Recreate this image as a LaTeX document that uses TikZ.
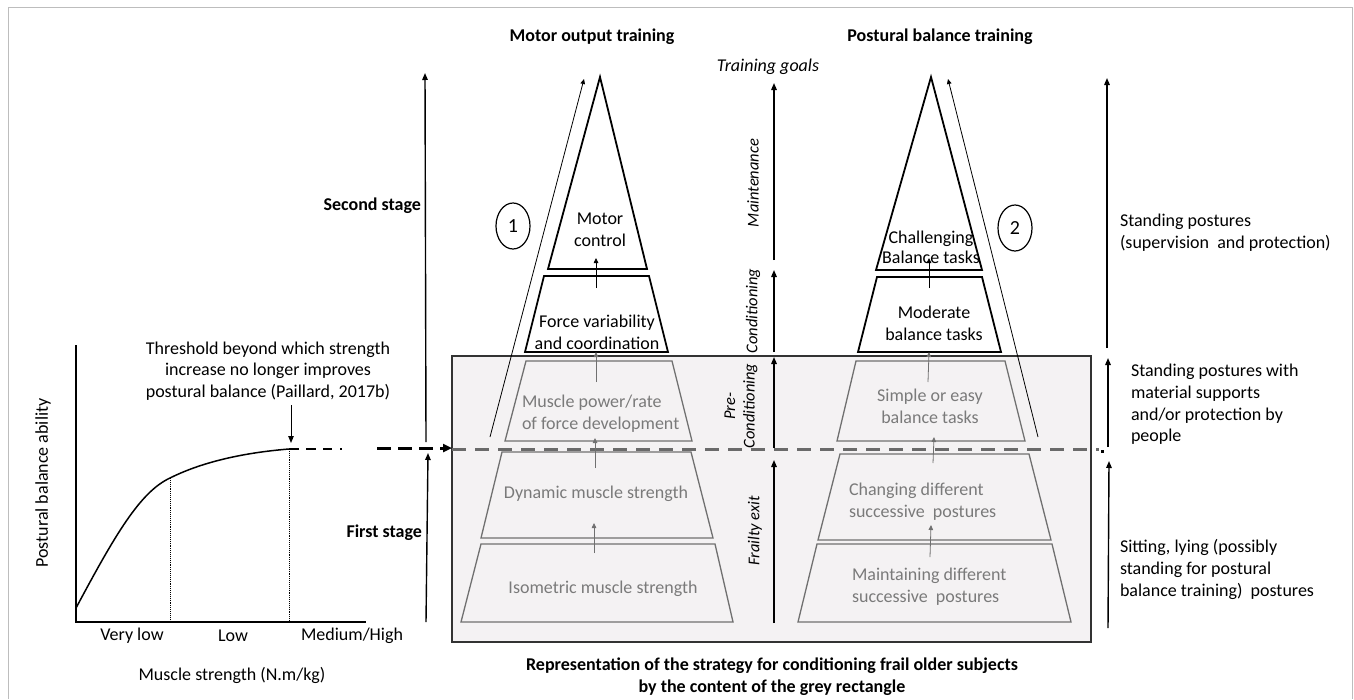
\documentclass[tikz,border=0pt]{standalone}
\usepackage{fontspec}
\setmainfont{Carlito}
\usetikzlibrary{arrows.meta,shapes.geometric}
\definecolor{rectfill}{HTML}{F4F2F3}
\definecolor{greytxt}{HTML}{7A7A7A}
\definecolor{greyline}{HTML}{707070}
\definecolor{framecol}{HTML}{BDBDBD}
\definecolor{dashgrey}{HTML}{6A6A6A}
\begin{document}
\begin{tikzpicture}[x=1pt,y=-1pt,
  every node/.style={inner sep=0pt, outer sep=0pt},
  tn/.style={font=\fontsize{18}{21.7}\selectfont},
  tb/.style={font=\bfseries\fontsize{18}{21.7}\selectfont},
  ti/.style={font=\itshape\fontsize{18}{21.7}\selectfont},
  trot/.style={font=\itshape\fontsize{16.5}{19.5}\selectfont, rotate=90, align=center},
  gtxt/.style={tn, text=greytxt},
  blk/.style={draw=black, line width=1.8},
  gry/.style={draw=greyline, line width=1.3},
  tipa/.style={-{Triangle[length=7pt,width=5.5pt]}},
  tips/.style={-{Triangle[length=5pt,width=4.5pt]}},
  axarrow/.style={tipa, line width=1.4, black},
  thin/.style={tips, line width=0.8},
]
\useasboundingbox (0,0) rectangle (1354,699);
% frame
\draw[framecol, line width=1] (8,699) -- (8,7) -- (1352.5,7) -- (1352.5,699);

% ---------------- titles
\node[tb] (t1) at (592,37) {Motor output training};
\node[tb] (t2) at (940,37) {Postural balance training};
\node[ti] (tg) at (768,67) {Training goals};

% ---------------- grey rectangle
\node[draw=black!80, line width=1.5, fill=rectfill, minimum width=639pt, minimum height=286pt, anchor=north west] (grect) at (452,356) {};

% grey dashed line
\coordinate (dl1) at (452,449);
\coordinate (dl2) at (1099,449);
\draw[dashgrey, line width=3, dash pattern=on 14pt off 9pt] (dl1) -- (dl2);
\fill[black] (1101,449.5) rectangle (1104,452.5);

% ---------------- left pyramid
\draw[blk] (600,77) -- (647,269) -- (548,269) -- cycle;
\draw[blk] (544,276) -- (649,276) -- (668,352) -- (525,352) -- cycle;
\draw[gry] (526,361) -- (672,361) -- (692,441) -- (505,441) -- cycle;
\draw[gry] (502,452) -- (691,452) -- (713,538) -- (481,538) -- cycle;
\draw[gry] (481,544) -- (715,544) -- (733,622) -- (461,622) -- cycle;

\node[tn, align=center] (mc) at (600,229.5) {Motor\\control};
\node[tn, align=center] (fv) at (597,332) {Force variability\\and coordination};
\node[gtxt, align=left, anchor=west] (mp) at (522,414) {Muscle power/rate\\of force development};
\node[gtxt] (dm) at (596,494) {Dynamic muscle strength};
\node[gtxt] (im) at (603,589) {Isometric muscle strength};

\coordinate (la1s) at (596,288); \coordinate (la1e) at (596,258);
\coordinate (la2s) at (596,382); \coordinate (la2e) at (596,352);
\coordinate (la3s) at (595,468); \coordinate (la3e) at (595,438);
\coordinate (la4s) at (594,553); \coordinate (la4e) at (594,523);
\draw[thin, black] (la1s) -- (la1e);
\draw[thin, greyline] (la2s) -- (la2e);
\draw[thin, greyline] (la3s) -- (la3e);
\draw[thin, greyline] (la4s) -- (la4e);

\coordinate (lo1) at (490,437); \coordinate (lo2) at (584,79);
\draw[thin, black] (lo1) -- (lo2);
\node[draw, ellipse, line width=1.2, minimum width=34pt, minimum height=46pt, font=\fontsize{20}{24}\selectfont] (c1) at (513,226) {1};

% ---------------- right pyramid
\draw[blk] (931,77) -- (982,270) -- (876,270) -- cycle;
\draw[blk] (877,277) -- (982,277) -- (1001,352) -- (858,352) -- cycle;
\draw[gry] (856,361) -- (1005,361) -- (1025,441) -- (837,441) -- cycle;
\draw[gry] (840,454) -- (1029,454) -- (1051,540) -- (818,540) -- cycle;
\draw[gry] (817,544) -- (1052,544) -- (1071,622) -- (798,622) -- cycle;

\node[font=\fontsize{18}{20}\selectfont, align=center] (cb) at (931,247) {Challenging\\Balance tasks};
\node[tn, align=center] (mb) at (934,323) {Moderate\\balance tasks};
\node[gtxt, align=center] (sb) at (930,406) {Simple or easy\\balance tasks};
\node[gtxt, align=left, anchor=west] (cd) at (849,502) {Changing different\\successive\ \ postures};
\node[gtxt, align=left, anchor=west] (md) at (852,587) {Maintaining different\\successive\ \ postures};

\coordinate (ra1s) at (929,288); \coordinate (ra1e) at (929,258);
\coordinate (ra2s) at (928,382); \coordinate (ra2e) at (929,352);
\coordinate (ra3s) at (933,463); \coordinate (ra3e) at (934,437);
\coordinate (ra4s) at (930,557); \coordinate (ra4e) at (931,525);
\draw[thin, black] (ra1s) -- (ra1e);
\draw[thin, greyline] (ra2s) -- (ra2e);
\draw[thin, greyline] (ra3s) -- (ra3e);
\draw[thin, greyline] (ra4s) -- (ra4e);

\coordinate (ro1) at (1038,437); \coordinate (ro2) at (948,79);
\draw[thin, black] (ro1) -- (ro2);
\node[draw, ellipse, line width=1.2, minimum width=34pt, minimum height=46pt, font=\fontsize{20}{24}\selectfont] (c2) at (1015,228) {2};

% ---------------- middle axis
\coordinate (m1s) at (774,260); \coordinate (m1e) at (774,83);
\coordinate (m2s) at (774,352); \coordinate (m2e) at (774,270);
\coordinate (m3s) at (774,448); \coordinate (m3e) at (774,357);
\coordinate (m4s) at (774,623); \coordinate (m4e) at (774,460);
\draw[axarrow] (m1s) -- (m1e);
\draw[axarrow] (m2s) -- (m2e);
\draw[axarrow] (m3s) -- (m3e);
\draw[axarrow] (m4s) -- (m4e);
\node[trot] (lmain) at (753,183) {Maintenance};
\node[trot] (lcond) at (753,311) {Conditioning};
\node[trot] (lpre) at (741,406) {Pre-\\Conditioning};
\node[trot] (lfra) at (755,531) {Frailty exit};

% ---------------- right axis
\coordinate (r1s) at (1107,348); \coordinate (r1e) at (1107,78);
\coordinate (r2s) at (1108,447); \coordinate (r2e) at (1108,358);
\coordinate (r3s) at (1108,628); \coordinate (r3e) at (1109,461);
\draw[axarrow] (r1s) -- (r1e);
\draw[axarrow] (r2s) -- (r2e);
\draw[axarrow] (r3s) -- (r3e);
\node[tn, align=left, anchor=west] (rt1) at (1120,232.5) {Standing postures\\(supervision\ \ and protection)};
\node[tn, align=left, anchor=west] (rt2) at (1131,404.5) {Standing postures with\\material supports\\and/or protection by\\people};
\node[tn, align=left, anchor=west] (rt3) at (1120,569.5) {Sitting, lying (possibly\\standing for postural\\balance training)\ \ postures};

% ---------------- stage arrows
\coordinate (s1s) at (426,442); \coordinate (s1e) at (425,73);
\coordinate (s2s) at (426,622); \coordinate (s2e) at (428,453);
\draw[axarrow] (s1s) -- (s1e);
\draw[axarrow] (s2s) -- (s2e);
\node[tb, anchor=east] (ss) at (421,206) {Second stage};
\node[tb, anchor=east] (fs) at (422,533) {First stage};

% ---------------- graph
\coordinate (o) at (76,622);
\coordinate (ytop) at (76,345);
\coordinate (xend) at (366,622);
\draw[line width=2.6] (ytop) -- (o) -- (xend);
\coordinate (k0) at (76,608);
\coordinate (k1) at (170,478);
\coordinate (k2) at (289,449);
\draw[line width=1.5] (k0) .. controls (115,535) and (140,492) .. (k1) .. controls (200,463) and (240,453) .. (k2);
\draw[densely dotted, line width=0.9] (k1) -- (170,622);
\draw[densely dotted, line width=0.9] (k2) -- (289,622);
\coordinate (d1) at (343,449);
\draw[line width=2, dash pattern=on 10pt off 7pt on 10pt off 7pt on 9pt off 8pt on 2pt off 20pt] (k2) -- (d1);
\coordinate (d2s) at (377,448);
\draw[line width=3, dash pattern=on 14pt off 7pt, -{Triangle[length=9pt,width=8pt]}] (d2s) -- (grect.west |- d2s);
\node[tn, align=center] (thr) at (268,371) {Threshold beyond which strength\\increase no longer improves\\postural balance (Paillard, 2017b)};
\coordinate (ta1) at (291,405); \coordinate (ta2) at (291,443);
\draw[tipa, line width=1] (ta1) -- (ta2);
\node[tn] (vl) at (132,636) {Very low};
\node[tn] (lo) at (233,636) {Low};
\node[tn] (mh) at (352,636) {Medium/High};
\node[tn] (xl) at (232,675) {Muscle strength (N.m/kg)};
\node[tn, rotate=90] (yl) at (43,483) {Postural balance ability};

% ---------------- bottom caption
\node[tb, align=center] (cap) at (772,677) {Representation of the strategy for conditioning frail older subjects\\by the content of the grey rectangle};
\end{tikzpicture}
\end{document}
